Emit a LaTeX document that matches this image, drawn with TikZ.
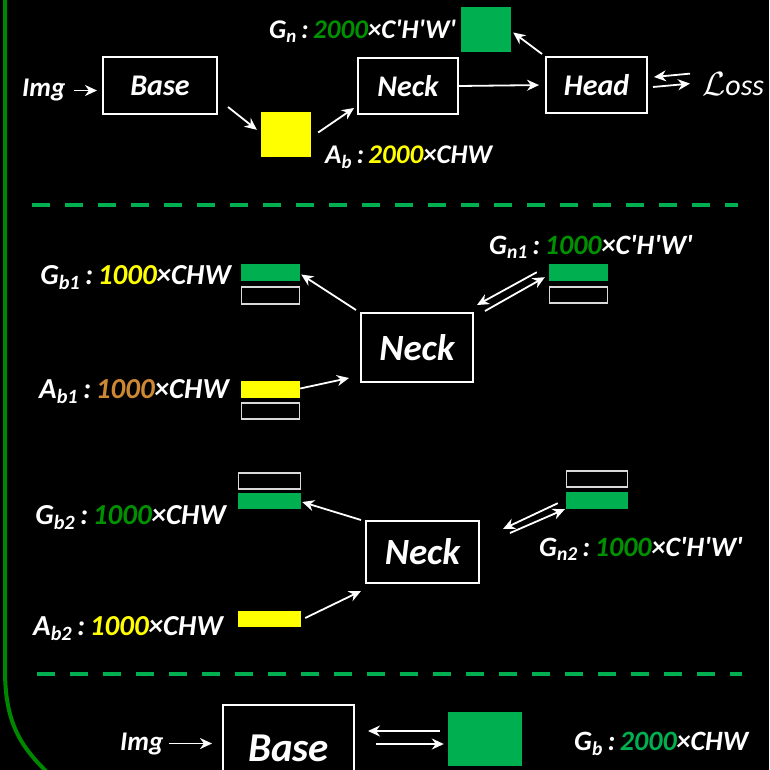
\documentclass[tikz,border=0pt]{standalone}
\usepackage{fontspec}
\setmainfont{Carlito}[Ligatures=TeXOff]
\usetikzlibrary{arrows.meta,positioning,calc}
\definecolor{cGr}{RGB}{0,176,80}
\definecolor{cDk}{RGB}{0,145,0}
\definecolor{cYe}{RGB}{255,255,0}
\definecolor{cOr}{RGB}{204,136,51}
\definecolor{cBd}{RGB}{0,135,0}
\newcommand{\fsz}[1]{\fontsize{#1}{#1}\selectfont\bfseries\itshape}
\newcommand{\lsub}[1]{\textsubscript{#1}}
\newcommand{\cn}[2]{\textcolor{#1}{#2}}
\tikzset{
  box/.style={draw=white,line width=2pt,text=white,inner sep=0pt},
  lbl/.style={text=white,inner sep=0pt,font=\fsz{29}},
  gbar/.style={fill=cGr,inner sep=0pt},
  ybar/.style={fill=cYe,inner sep=0pt},
  ebar/.style={draw=white!85!black,line width=1.2pt,inner sep=0pt},
  ar/.style={-{Stealth[length=12pt,width=11pt]},white,line width=1.8pt},
  sep/.style={cGr,line width=4pt,dash pattern=on 18pt off 15pt},
}

\begin{document}
\begin{tikzpicture}[x=1pt,y=-1pt]
  \clip (0,0) rectangle (769,770);
  \fill[black] (0,0) rectangle (769,770);
  % frame and separators
  \draw[cBd,line width=4pt] (5,-5) -- (5,670) .. controls (5,725) and (22,748) .. (50,775);
  \draw[sep] (32,205) -- (738,205);
  \draw[sep] (37,674) -- (742,674);
  % top : full forward pass
  \node[lbl,anchor=base west,font=\fsz{27}] (imgT) at (22,97) {Img};
  \node[box,font=\fsz{30},minimum width=114pt,minimum height=57pt] (baseT) at (160,85.5) {Base};
  \node[ybar,minimum width=50pt,minimum height=45pt] (abT) at (286,134.5) {};
  \node[box,font=\fsz{30},minimum width=100pt,minimum height=56pt] (neckT) at (408,86) {Neck};
  \node[box,font=\fsz{30},minimum width=101pt,minimum height=56pt] (headT) at (596.5,85) {Head};
  \node[gbar,minimum width=50pt,minimum height=45pt] (gnT) at (486,29.5) {};
  \node[lbl,anchor=base east,font=\fsz{27}] (gnLab) at (456,39) {G\lsub{n}\,:\,\cn{cDk}{2000}×C'H'W'};
  \node[lbl,anchor=base west,font=\fsz{27}] (abLab) at (325,164) {A\lsub{b}\,:\,\cn{cYe}{2000}×CHW};
  \node[lbl,anchor=base west,font=\fontsize{30}{30}\selectfont\itshape] (lossT) at (702,96)
    {\scalebox{1.35}{$\mathcal{L}$}oss};
  \draw[ar,shorten <=8pt,shorten >=5pt] (imgT.east) -- (imgT.east -| baseT.west);
  \draw[ar] ($(baseT.south east)+(10,-8)$) -- ($(abT.north west)+(-4,18)$);
  \draw[ar] ($(abT.east)+(7,-2)$) -- ($(neckT.south west)+(-3,-7)$);
  \draw[ar,shorten >=6pt] (neckT.east) -- (headT.west);
  \draw[ar] ($(headT.north west)+(-3,-2)$) -- ($(gnT.east)+(2,3)$);
  \draw[ar] ($(lossT.west)+(-12,-11)$) -- ($(headT.east)+(6,-8)$);
  \draw[ar] ($(headT.east)+(5,2)$) -- ($(lossT.west)+(-12,-1)$);
  % middle 1 : first half of the batch
  \node[gbar,minimum width=59pt,minimum height=17pt] (gb1Bar) at (270.5,272.5) {};
  \node[ebar,minimum width=58pt,minimum height=17pt] (gb1Box) at (270.5,295.5) {};
  \node[ybar,minimum width=59pt,minimum height=17pt] (ab1Bar) at (270.5,389.5) {};
  \node[ebar,minimum width=58pt,minimum height=16pt] (ab1Box) at (270.5,411) {};
  \node[lbl,anchor=base east] (gb1Lab) at (231,284) {G\lsub{b1}\,:\,\cn{cYe}{1000}×CHW};
  \node[lbl,anchor=base east] (ab1Lab) at (229,398) {A\lsub{b1}\,:\,\cn{cOr}{1000}×CHW};
  \node[box,font=\fsz{37},minimum width=112pt,minimum height=69pt] (neck1) at (417,347.5) {Neck};
  \node[gbar,minimum width=59pt,minimum height=17pt] (gn1Bar) at (578.5,272.5) {};
  \node[ebar,minimum width=58pt,minimum height=16pt] (gn1Box) at (578.5,295) {};
  \node[lbl,anchor=base west,font=\fsz{28}] (gn1Lab) at (489,254) {G\lsub{n1}\,:\,\cn{cDk}{1000}×C'H'W'};
  \draw[ar] ($(neck1.north west)+(-4,-2)$) -- ($(gb1Bar.east)+(1,2)$);
  \draw[ar] ($(ab1Bar.east)+(0,-1)$) -- ($(neck1.south west)+(-11,-5)$);
  \draw[ar] ($(gn1Bar.south west)+(-12,-9)$) -- ($(neck1.north east)+(3,-7)$);
  \draw[ar] ($(neck1.north east)+(11,-1)$) -- ($(gn1Bar.south west)+(-4,-4)$);
  % middle 2 : second half of the batch
  \node[ebar,minimum width=62pt,minimum height=16pt] (gb2Box) at (269.5,481) {};
  \node[gbar,minimum width=63pt,minimum height=16pt] (gb2Bar) at (269.5,501) {};
  \node[ybar,minimum width=63pt,minimum height=16pt] (ab2Bar) at (269.5,619) {};
  \node[lbl,anchor=base east] (gb2Lab) at (226,524) {G\lsub{b2}\,:\,\cn{cDk}{1000}×CHW};
  \node[lbl,anchor=base east] (ab2Lab) at (223,635) {A\lsub{b2}\,:\,\cn{cYe}{1000}×CHW};
  \node[box,font=\fsz{37},minimum width=113pt,minimum height=62pt] (neck2) at (422.5,552) {Neck};
  \node[ebar,minimum width=61pt,minimum height=16pt] (gn2Box) at (597,479) {};
  \node[gbar,minimum width=62pt,minimum height=17pt] (gn2Bar) at (597,500.5) {};
  \node[lbl,anchor=base west,font=\fsz{28}] (gn2Lab) at (539,556) {G\lsub{n2}\,:\,\cn{cDk}{1000}×C'H'W'};
  \draw[ar] ($(neck2.north west)+(-4,0)$) -- ($(gb2Bar.east)+(1,1)$);
  \draw[ar] ($(ab2Bar.east)+(4,-1)$) -- ($(neck2.south west)+(-4,7)$);
  \draw[ar] ($(gn2Bar.south west)+(-8,-6)$) -- ($(neck2.east)+(23,-23)$);
  \draw[ar] ($(neck2.east)+(30,-19)$) -- ($(gn2Bar.south west)+(-1,0)$);
  % bottom : backbone only
  \node[lbl,anchor=base west,font=\fsz{27}] (imgB) at (120,750) {Img};
  \node[box,font=\fsz{41},minimum width=131pt,minimum height=86pt] (baseB) at (288.5,748) {Base};
  \node[gbar,minimum width=74pt,minimum height=54pt] (gbSq) at (485,739) {};
  \node[lbl,anchor=base west,font=\fsz{28}] (gbLab) at (574,750) {G\lsub{b}\,:\,\cn{cGr}{2000}×CHW};
  \draw[ar,shorten <=5pt,shorten >=10pt] (imgB.east) -- (imgB.east -| baseB.west);
  \draw[ar] ($(gbSq.west)+(-8,-8)$) -- ($(baseB.east)+(13,-17)$);
  \draw[ar] ($(baseB.east)+(21,-4)$) -- ($(gbSq.west)+(-4,5)$);
\end{tikzpicture}
\end{document}
